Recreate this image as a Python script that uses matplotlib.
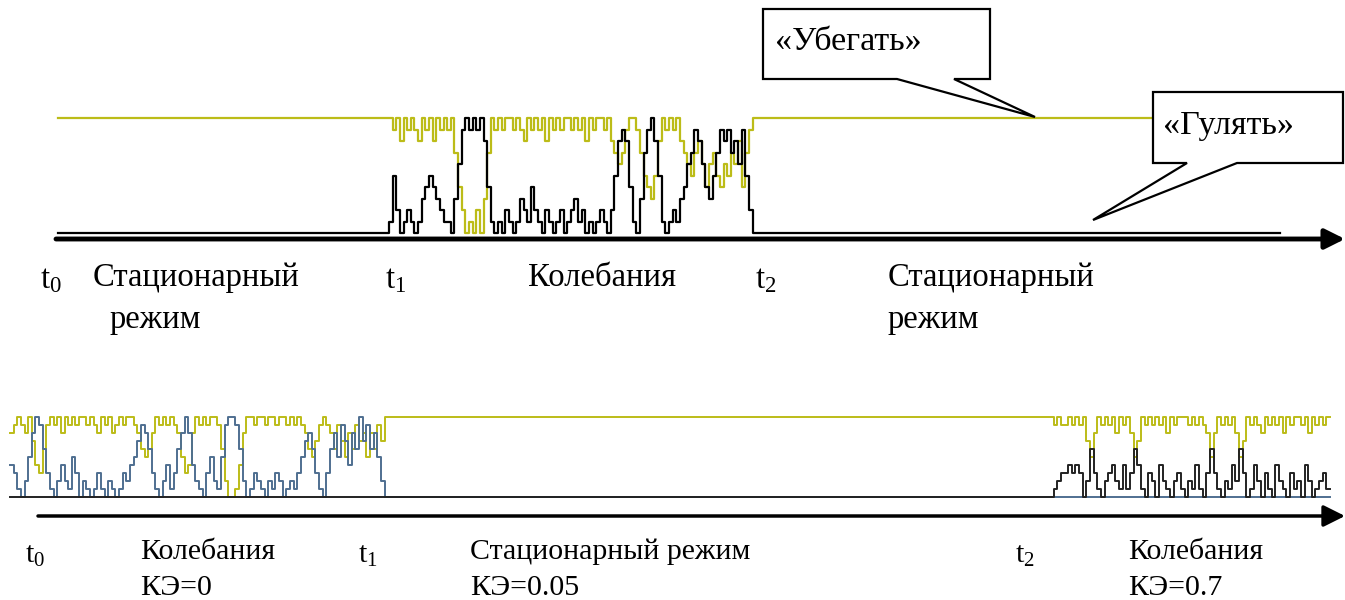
import numpy as np
import matplotlib
matplotlib.use("Agg")
import matplotlib.pyplot as plt
from matplotlib.patches import Polygon

# --- data (levels 0..10, one value per time step) ---
# upper diagram: stationary -> oscillation (t1..t2) -> stationary
TOP_PRE, TOP_POST = 91, 145
top_ube_osc = [10, 9, 10, 8, 10, 9, 10, 9, 8, 10,
               9, 10, 8, 10, 9, 10, 9, 10, 7, 4,
               2, 0, 1, 0, 2, 0, 3, 7, 10, 9,
               10, 9, 10, 10, 9, 10, 9, 8, 10, 9,
               10, 9, 10, 8, 10, 9, 10, 9, 10, 10,
               9, 10, 9, 10, 8, 10, 9, 10, 10, 9,
               10, 8, 7, 6, 7, 9, 10, 10, 9, 7,
               5, 4, 3, 5, 8, 10, 9, 10, 9, 10,
               8, 7, 6, 5, 7, 8, 6, 4, 6, 7,
               5, 4, 6, 5, 7, 6, 8, 4, 7, 9]
top_gul_osc = [1, 5, 2, 0, 1, 2, 1, 0, 1, 3,
               4, 5, 4, 3, 2, 1, 1, 0, 3, 6,
               9, 10, 9, 10, 9, 10, 8, 4, 1, 0,
               1, 0, 2, 1, 0, 1, 3, 2, 1, 4,
               2, 1, 0, 2, 1, 0, 1, 2, 0, 1,
               2, 3, 1, 2, 0, 1, 0, 1, 2, 1,
               0, 2, 5, 8, 9, 8, 4, 1, 0, 3,
               7, 9, 10, 8, 5, 1, 0, 1, 2, 1,
               3, 4, 6, 7, 9, 8, 6, 4, 3, 5,
               7, 9, 8, 9, 7, 8, 6, 9, 5, 2]

# lower diagram: oscillation -> stationary -> oscillation
BOT_MID = 183
bot_yel_osc1 = [8, 9, 10, 9, 8, 10, 7, 4, 3, 6,
                9, 10, 9, 10, 8, 10, 9, 10, 9, 10,
                10, 9, 10, 9, 8, 10, 9, 10, 8, 9,
                10, 9, 10, 10, 9, 8, 6, 5, 6, 8,
                10, 9, 10, 9, 10, 9, 8, 5, 3, 4,
                8, 10, 9, 10, 9, 10, 10, 9, 6, 2,
                0, 0, 1, 4, 8, 10, 10, 9, 10, 10,
                9, 10, 10, 9, 10, 10, 9, 10, 9, 10,
                9, 8, 6, 5, 7, 9, 10, 9, 8, 6,
                9, 7, 5, 8, 6, 9, 7, 8, 5, 8,
                6, 9, 7, 10]
bot_blu_osc1 = [4, 3, 1, 0, 2, 5, 8, 10, 9, 6,
                3, 1, 0, 2, 4, 2, 1, 5, 3, 0,
                2, 1, 0, 1, 3, 1, 0, 2, 1, 0,
                1, 3, 2, 4, 5, 7, 9, 8, 6, 3,
                1, 0, 2, 4, 1, 3, 6, 8, 10, 8,
                4, 2, 1, 0, 3, 5, 2, 1, 5, 9,
                10, 10, 9, 6, 2, 0, 1, 3, 2, 1,
                0, 2, 1, 3, 2, 0, 1, 2, 1, 3,
                5, 7, 8, 6, 3, 1, 0, 3, 6, 8,
                5, 9, 7, 4, 8, 6, 10, 7, 9, 6,
                8, 5, 2, 0]
bot_yel_osc2 = [9, 10, 9, 9, 10, 9, 10, 9, 10, 7,
                5, 8, 10, 9, 10, 9, 10, 8, 10, 9,
                10, 8, 5, 7, 10, 9, 10, 9, 10, 9,
                10, 8, 10, 9, 10, 10, 10, 9, 10, 9,
                10, 9, 8, 5, 8, 10, 9, 10, 9, 10,
                8, 5, 7, 10, 9, 10, 9, 8, 10, 9,
                10, 9, 10, 8, 10, 9, 10, 10, 9, 10,
                8, 10, 9, 10, 9, 10]
bot_blk_osc2 = [1, 2, 3, 3, 4, 3, 4, 3, 0, 2,
                6, 3, 1, 0, 2, 3, 4, 2, 1, 4,
                1, 3, 6, 4, 1, 0, 3, 2, 0, 4,
                2, 1, 0, 2, 3, 1, 0, 2, 1, 4,
                1, 0, 3, 6, 3, 1, 0, 2, 1, 4,
                2, 6, 3, 0, 1, 4, 2, 0, 3, 1,
                0, 4, 2, 1, 0, 3, 1, 2, 0, 4,
                2, 0, 1, 2, 3, 1]

top_labels = [r"$\mathrm{t}_0$", "Стационарный", "режим", r"$\mathrm{t}_1$",
              "Колебания", r"$\mathrm{t}_2$", "Стационарный", "режим"]
bot_labels = [r"$\mathrm{t}_0$", "Колебания", "КЭ=0", r"$\mathrm{t}_1$",
              "Стационарный режим", "КЭ=0.05", r"$\mathrm{t}_2$", "Колебания", "КЭ=0.7"]
callouts = ["«Убегать»", "«Гулять»"]

YEL = "#bcbc18"
BLU = "#4f6f90"

plt.rcParams['font.family'] = ['Liberation Serif', 'DejaVu Serif']
plt.rcParams['mathtext.fontset'] = 'custom'
plt.rcParams['mathtext.rm'] = 'Liberation Serif'
plt.rcParams['mathtext.it'] = 'Liberation Serif:italic'

W, H = 1345, 600
fig = plt.figure(figsize=(W / 100, H / 100), dpi=100)


def px_axes(x0, x1, y_base, y_top):
    ax = fig.add_axes([x0 / W, 1 - y_base / H, (x1 - x0) / W, (y_base - y_top) / H])
    ax.set_ylim(0, 10)
    ax.axis("off")
    return ax


def steps(ax, vals, color, lw=1.6):
    vals = np.asarray(vals, dtype=float)
    x = np.arange(len(vals) + 1)
    y = np.append(vals, vals[-1])
    ax.step(x, y, where="post", color=color, lw=lw, clip_on=False)


# upper signals
ube = [10] * TOP_PRE + top_ube_osc + [10] * TOP_POST
gul = [0] * TOP_PRE + top_gul_osc + [0] * TOP_POST
ax1 = px_axes(58, 1280, 233, 118)
ax1.set_xlim(0, len(ube))
steps(ax1, ube, YEL)
steps(ax1, gul, "black")

# lower signals
yel2 = bot_yel_osc1 + [10] * BOT_MID + bot_yel_osc2
blu2 = bot_blu_osc1 + [0] * (BOT_MID + len(bot_yel_osc2))
blk2 = [0] * (len(bot_yel_osc1) + BOT_MID) + bot_blk_osc2
ax2 = px_axes(10, 1330, 497, 417)
ax2.set_xlim(0, len(yel2))
steps(ax2, yel2, YEL, lw=1.4)
steps(ax2, blu2, BLU, lw=1.4)
steps(ax2, blk2, "#222222", lw=1.4)

# overlay in pixel coordinates for arrows, callouts and text
ov = fig.add_axes([0, 0, 1, 1])
ov.set_xlim(0, W)
ov.set_ylim(H, 0)
ov.axis("off")

ov.annotate("", xy=(1345, 239), xytext=(56, 239),
            arrowprops=dict(arrowstyle="-|>,head_length=1.0,head_width=0.5",
                            lw=3.5, color="black", shrinkA=0, shrinkB=0,
                            mutation_scale=12))
ov.annotate("", xy=(1345, 516), xytext=(38, 516),
            arrowprops=dict(arrowstyle="-|>,head_length=1.0,head_width=0.5",
                            lw=2.5, color="black", shrinkA=0, shrinkB=0,
                            mutation_scale=13))

# callout boxes
ov.add_patch(Polygon([(763, 9), (990, 9), (990, 79), (954, 79), (1035, 117),
                      (897, 79), (763, 79)], closed=True, facecolor="white",
                     edgecolor="black", lw=1.6, joinstyle="miter", zorder=5))
ov.add_patch(Polygon([(1153, 92), (1343, 92), (1343, 163), (1237, 163), (1093, 220),
                      (1187, 163), (1153, 163)], closed=True, facecolor="white",
                     edgecolor="black", lw=1.6, joinstyle="miter", zorder=5))
ov.text(775, 42, callouts[0], fontsize=24.5, va="center", ha="left", zorder=6)
ov.text(1163, 126, callouts[1], fontsize=24.5, va="center", ha="left", zorder=6)

# labels under the upper axis
top_pos = [(40, 280), (93, 278), (110, 320), (385, 280), (528, 278),
           (755, 280), (888, 278), (888, 320)]
for (x, y), s in zip(top_pos, top_labels):
    ov.text(x, y, s, fontsize=23.5, va="center", ha="left")

# labels under the lower axis
bot_pos = [(25, 556), (140, 552), (140, 588), (358, 556), (470, 552), (470, 588),
           (1015, 556), (1128, 552), (1128, 588)]
for (x, y), s in zip(bot_pos, bot_labels):
    ov.text(x, y, s, fontsize=21.5, va="center", ha="left")

fig.savefig("out.png", dpi=100)
